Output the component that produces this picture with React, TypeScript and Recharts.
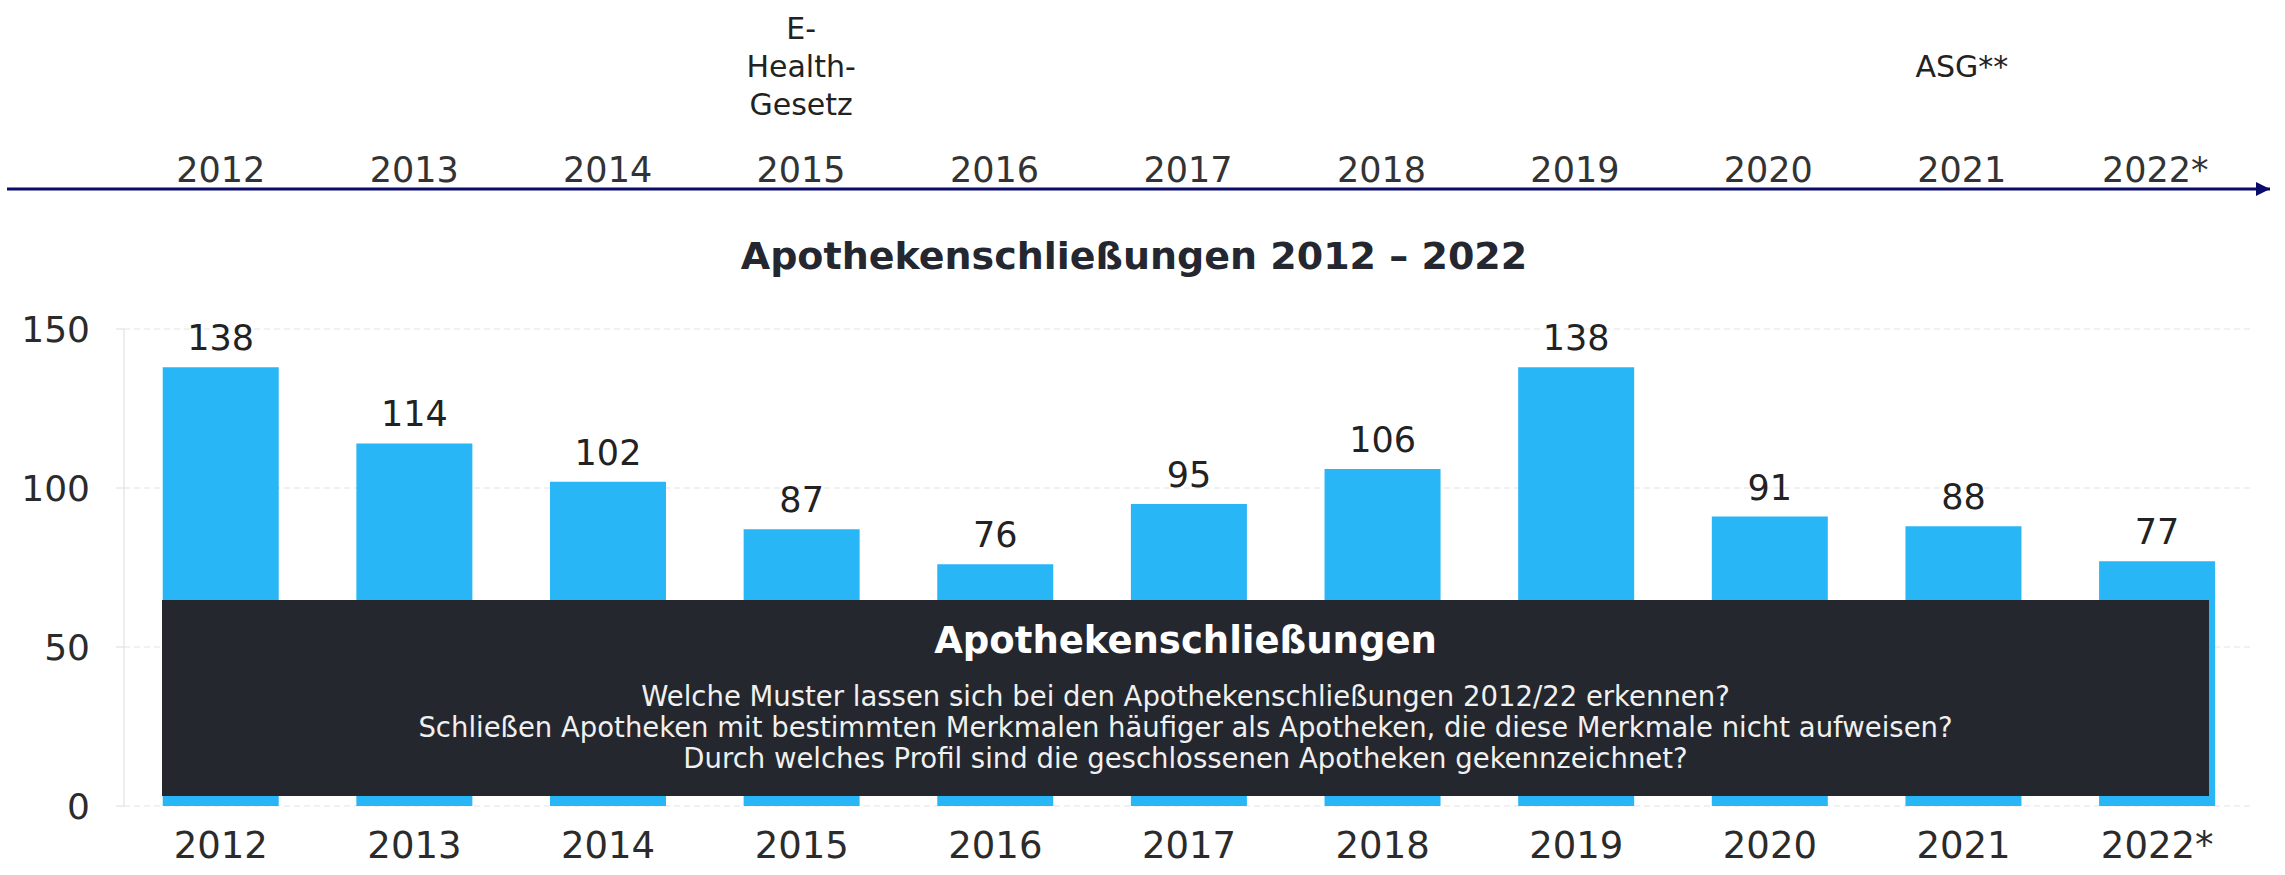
import React from 'react';
import { BarChart, Bar, XAxis, YAxis, CartesianGrid, LabelList } from 'recharts';

// Jahre und Schließungen
const years = ['2012', '2013', '2014', '2015', '2016', '2017', '2018', '2019', '2020', '2021', '2022*'];
const closures = [138, 114, 102, 87, 76, 95, 106, 138, 91, 88, 77];
// Gesetze auf dem Zeitstrahl (Zeilen mit | getrennt)
const events = ['', '', '', 'E-|Health-|Gesetz', '', '', '', '', '', 'ASG**', ''];
const yTicks = [0, 50, 100, 150];

const overlayTitle = 'Apothekenschließungen';
const overlayLines = [
    'Welche Muster lassen sich bei den Apothekenschließungen 2012/22 erkennen?',
    'Schließen Apotheken mit bestimmten Merkmalen häufiger als Apotheken, die diese Merkmale nicht aufweisen?',
    'Durch welches Profil sind die geschlossenen Apotheken gekennzeichnet?',
];

const data = years.map((year, i) => ({ year, value: closures[i], event: events[i] }));

const FONT = '"DejaVu Sans", Verdana, sans-serif';

const TimelineTick = (props: any) => {
    const { x, y, payload, index } = props;
    const lines = events[index] ? events[index].split('|') : [];
    const n = lines.length;
    return (
        <g>
            <text x={x} y={y - 7} textAnchor="middle" fill="#333" fontSize={35} fontFamily={FONT}>
                {payload.value}
            </text>
            {lines.map((l: string, i: number) => (
                <text
                    key={i}
                    x={x}
                    y={66 + (i - (n - 1) / 2) * 38 + 11}
                    textAnchor="middle"
                    fill="#222"
                    fontSize={30}
                    fontFamily={FONT}
                >
                    {l}
                </text>
            ))}
        </g>
    );
};

export default function App() {
    return (
        <div style={{ position: 'absolute', left: 0, top: 0, width: 2285, height: 875, background: '#fff', fontFamily: FONT }}>
            <svg width={0} height={0} style={{ position: 'absolute' }}>
                <defs>
                    <marker id="arrowHead" markerUnits="userSpaceOnUse" markerWidth={16} markerHeight={16} refX={14} refY={7} orient="auto">
                        <path d="M0,0 L14,7 L0,14 z" fill="#0b0b6b" />
                    </marker>
                </defs>
            </svg>

            {/* Zeitstrahl */}
            <div style={{ position: 'absolute', left: 0, top: 0 }}>
                <BarChart width={2285} height={200} data={data} margin={{ top: 0, right: 15, left: 7, bottom: 0 }}>
                    <XAxis
                        dataKey="year"
                        orientation="top"
                        height={189}
                        padding={{ left: 117, right: 18 }}
                        axisLine={{ stroke: '#0b0b6b', strokeWidth: 3, markerEnd: 'url(#arrowHead)' }}
                        tickLine={false}
                        tickSize={0}
                        tickMargin={0}
                        interval={0}
                        tick={<TimelineTick />}
                    />
                    <YAxis hide domain={[0, 150]} />
                    <Bar dataKey="value" fill="none" isAnimationActive={false} />
                </BarChart>
            </div>

            <div
                style={{
                    position: 'absolute', left: 0, top: 237, width: 2268, textAlign: 'center',
                    fontSize: 38, lineHeight: '38px', fontWeight: 'bold', color: '#24272f',
                }}
            >
                Apothekenschließungen 2012 – 2022
            </div>

            <div style={{ position: 'absolute', left: 0, top: 290 }}>
                <BarChart width={2285} height={585} data={data} margin={{ top: 39, right: 31, left: 0, bottom: 0 }} barCategoryGap="20%">
                    <CartesianGrid vertical={false} stroke="#e3e3e3" strokeDasharray="6 4" />
                    <XAxis
                        dataKey="year"
                        height={69}
                        axisLine={false}
                        tickLine={false}
                        tickSize={0}
                        tickMargin={26}
                        interval={0}
                        tick={{ fill: '#2b2b2b', fontSize: 37, fontFamily: FONT }}
                    />
                    <YAxis
                        width={124}
                        domain={[0, 150]}
                        ticks={yTicks}
                        axisLine={{ stroke: '#dcdcdc' }}
                        tickLine={{ stroke: '#dcdcdc' }}
                        tickSize={8}
                        tickMargin={26}
                        tick={{ fill: '#2b2b2b', fontSize: 36, fontFamily: FONT }}
                    />
                    <Bar dataKey="value" fill="#29b6f6" isAnimationActive={false}>
                        <LabelList dataKey="value" position="top" offset={17} fill="#222" fontSize={35} fontFamily={FONT} />
                    </Bar>
                </BarChart>
            </div>

            {/* Infobox */}
            <div
                style={{
                    position: 'absolute', left: 162, top: 600, width: 2047, height: 196,
                    background: '#24272e', color: '#fff', textAlign: 'center',
                }}
            >
                <div style={{ position: 'absolute', left: 0, right: 0, top: 22, fontSize: 37, lineHeight: '38px', fontWeight: 'bold' }}>
                    {overlayTitle}
                </div>
                <div style={{ position: 'absolute', left: 0, right: 0, top: 81, fontSize: 27.5, lineHeight: '31px', color: '#f0f0f0' }}>
                    {overlayLines.map((l, i) => (
                        <div key={i}>{l}</div>
                    ))}
                </div>
            </div>
        </div>
    );
}
